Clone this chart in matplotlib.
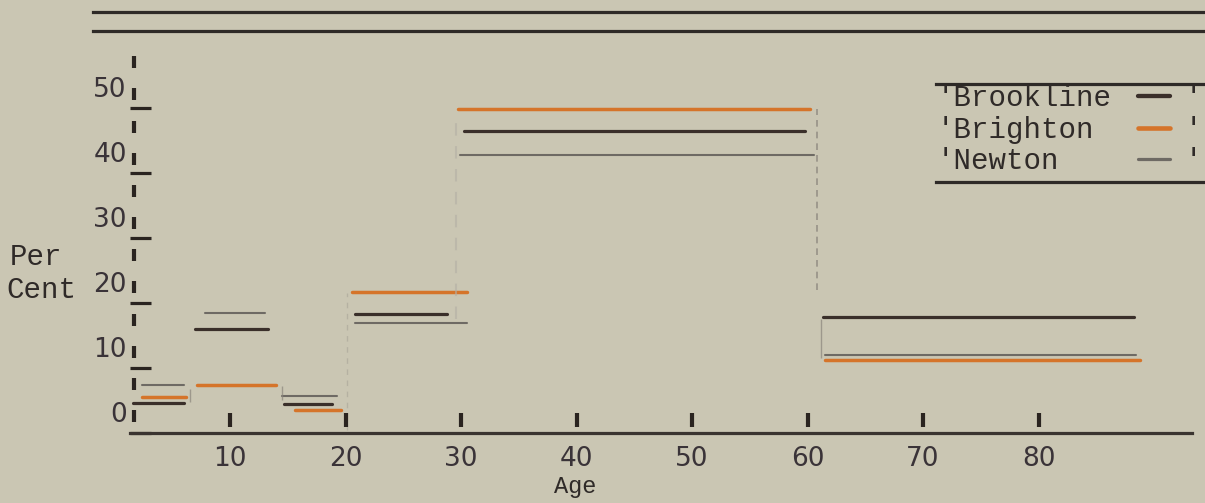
import numpy as np
import matplotlib
matplotlib.use('Agg')
import matplotlib.pyplot as plt
from matplotlib.lines import Line2D

# values (per cent, by age group)
towns = ['Brookline', 'Brighton', 'Newton']
brookline_start = [1.6, 7.0, 14.7, 20.8, 30.3, 61.3]
brookline_end = [6.0, 13.3, 18.8, 28.8, 59.8, 88.3]
brookline_pct = [4.6, 16.0, 4.5, 18.3, 46.5, 17.8]
brighton_start = [2.4, 7.1, 15.6, 20.6, 29.7, 61.5]
brighton_end = [6.2, 14.0, 19.6, 30.5, 60.2, 88.8]
brighton_pct = [5.5, 7.4, 3.5, 21.7, 49.8, 11.2]
newton_start = [2.4, 7.8, 14.5, 20.8, 29.9, 61.5]
newton_end = [6.0, 13.0, 19.3, 30.5, 60.6, 88.4]
newton_pct = [7.4, 18.5, 5.7, 16.9, 42.8, 12.0]

x_ticks = [10, 20, 30, 40, 50, 60, 70, 80]
y_ticks = [0, 10, 20, 30, 40, 50]

bg = '#cac6b3'
ink = '#2f2a28'
colors = {'Brookline': '#3a2f2a', 'Brighton': '#d5742a', 'Newton': '#6e6a64'}
widths = {'Brookline': 2.3, 'Brighton': 2.5, 'Newton': 1.5}

fig = plt.figure(figsize=(12.05, 5.03), dpi=100, facecolor=bg)
W, H = 1205.0, 503.0
ax = fig.add_axes([130 / W, 70 / H, 1062 / W, 383 / H])
ax.set_facecolor(bg)
ax.set_xlim(1.34, 93.29)
ax.set_ylim(0, 58.92)

series = [
    ('Brookline', brookline_start, brookline_end, brookline_pct),
    ('Brighton', brighton_start, brighton_end, brighton_pct),
    ('Newton', newton_start, newton_end, newton_pct),
]
for name, s, e, p in series:
    ax.hlines(p, s, e, color=colors[name], lw=widths[name], capstyle='round')

# faint typed connectors between age groups
ax.vlines(60.8, 22.0, 49.8, color='#8a857c', lw=1.2, ls=(0, (4, 3)), alpha=0.8)
ax.vlines(61.2, 11.6, 17.6, color='#8a857c', lw=1.0, alpha=0.7)
ax.vlines(20.1, 0.5, 21.5, color='#a8a498', lw=1.0, ls=(0, (4, 4)), alpha=0.6)
ax.vlines(29.6, 17.5, 49.0, color='#b4b0a4', lw=1.5, ls=(0, (6, 5)), alpha=0.6)
ax.vlines(6.5, 4.8, 6.8, color='#8a857c', lw=1.0, alpha=0.7)
ax.vlines(14.5, 5.0, 7.2, color='#8a857c', lw=1.0, alpha=0.7)

for sp in ['top', 'right', 'left']:
    ax.spines[sp].set_visible(False)
ax.spines['bottom'].set_color('#3a3430')
ax.spines['bottom'].set_linewidth(2.3)

ax.set_xticks(x_ticks)
ax.set_xticklabels([str(t) for t in x_ticks], fontsize=19, color='#3a3338')
ax.tick_params(axis='x', length=0, pad=9)
ax.plot(x_ticks, np.full(len(x_ticks), 2.0), ls='none', marker='|', ms=10, mew=3.0, color='#2a2420')

ax.set_yticks(y_ticks)
ax.set_yticklabels([])
ax.tick_params(axis='y', direction='in', length=15, width=2.3, color='#2a2420')
for t in y_ticks:
    ax.text(-0.003, t + 2.8, str(t), transform=ax.get_yaxis_transform(), ha='right', va='center',
            fontsize=19, color='#3a3338')
apos = np.arange(2.6, 58.5, 4.95)
ax.plot(np.full(len(apos), 1.7), apos, ls='none', marker='|', ms=8, mew=3.0, color='#2a2420')

mono = 'Liberation Mono'
fig.text(10 / W, 1 - 257 / H, 'Per', family=mono, fontsize=21, color=ink, va='center')
fig.text(6 / W, 1 - 290 / H, 'Cent', family=mono, fontsize=21, color=ink, va='center')
ax.set_xlabel('Age', family=mono, fontsize=17, color=ink)
ax.xaxis.set_label_coords((575 - 130) / 1062, -0.11)

# top double rule
for yy in [12, 31]:
    fig.add_artist(Line2D([93 / W, 1.0], [1 - yy / H, 1 - yy / H], color='#2e2a27', lw=2.3))

# typed legend block
for yy in [84, 182]:
    fig.add_artist(Line2D([936 / W, 1.0], [1 - yy / H, 1 - yy / H], color='#2e2a27', lw=2.3))
leg_y = [98, 130, 161]
for name, yy in zip(towns, leg_y):
    fig.text(937 / W, 1 - yy / H, "'" + name, family=mono, fontsize=21, color=ink, va='center')
    fig.text(1193 / W, 1 - yy / H, "'", family=mono, fontsize=21, color=ink, va='center', ha='center')
    fig.add_artist(Line2D([1138 / W, 1170 / W], [1 - (yy - 2) / H, 1 - (yy - 2) / H],
                          color=colors[name], lw=widths[name] + 0.8, solid_capstyle='round'))

fig.savefig('out.png', dpi=100, facecolor=bg)
